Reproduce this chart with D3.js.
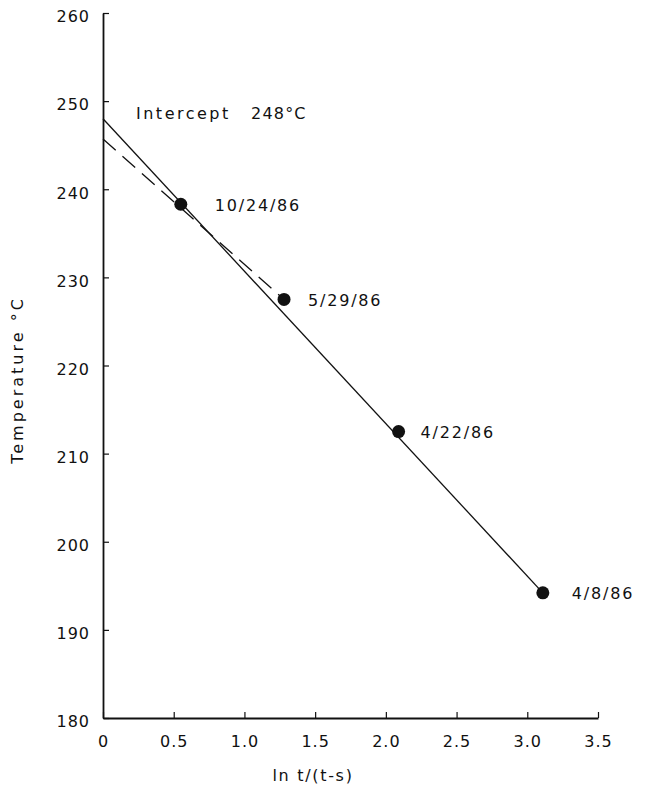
<!DOCTYPE html>
<html>
<head>
<meta charset="utf-8">
<script src="https://cdn.jsdelivr.net/npm/d3@7"></script>
<style>
  html, body { margin: 0; padding: 0; background: #fff; }
  svg text { font-family: "DejaVu Sans", "Liberation Sans", Arial, sans-serif; fill: #111; }
</style>
</head>
<body>
<svg id="chart" width="647" height="790"></svg>
<script>
// Measured points: ln t/(t-s) vs temperature (°C)
const dates = ["10/24/86", "5/29/86", "4/22/86", "4/8/86"];
const lnRatio = [0.55, 1.28, 2.09, 3.11];
const tempC = [238.3, 227.5, 212.5, 194.2];

// Fitted straight line through all points (intercept 248 °C)
const fitX = [0, 3.11];
const fitY = [248, 194.2];

// Line fitted to the two most recent points only
const fit2X = [0, 1.28];
const fit2Y = [245.7, 227.5];

const xTicks = [0, 0.5, 1.0, 1.5, 2.0, 2.5, 3.0, 3.5];
const xTickLabels = ["0", "0.5", "1.0", "1.5", "2.0", "2.5", "3.0", "3.5"];
const yTicks = [180, 190, 200, 210, 220, 230, 240, 250, 260];

// Horizontal gap between each dot and its date label
const labelGap = [34, 24, 22, 29];

const svg = d3.select("#chart");
const x = d3.scaleLinear().domain([0, 3.5]).range([103, 598]);
const y = d3.scaleLinear().domain([180, 260]).range([718, 13]);

const ink = "#111";
const font = '"DejaVu Sans", "Liberation Sans", Arial, sans-serif';

// Axes with inward-pointing ticks
const yAxis = d3.axisLeft(y).tickValues(yTicks).tickSizeInner(-6).tickSizeOuter(0).tickPadding(13);
const gy = svg.append("g").attr("transform", `translate(${x(0)},0)`).call(yAxis);
const xAxis = d3.axisBottom(x).tickValues(xTicks).tickFormat((d, i) => xTickLabels[i])
  .tickSizeInner(-6).tickSizeOuter(0).tickPadding(18);
const gx = svg.append("g").attr("transform", `translate(0,${y(180)})`).call(xAxis);

[gx, gy].forEach(g => {
  g.select(".domain").attr("stroke", ink).attr("stroke-width", 1.8);
  g.selectAll(".tick line").attr("stroke", ink).attr("stroke-width", 1.2);
  g.selectAll(".tick text").attr("fill", ink).style("font-size", "16px").style("letter-spacing", "1px")
    .style("font-family", font);
});
gx.selectAll(".tick text").attr("dy", "0.71em");
gy.selectAll(".tick text").attr("dy", "0.55em");

// Axis titles
svg.append("text")
  .attr("x", 313).attr("y", 776)
  .attr("text-anchor", "middle").attr("dominant-baseline", "middle")
  .style("font-size", "16px").style("letter-spacing", "1.7px")
  .text("ln t/(t-s)");
svg.append("text")
  .attr("transform", "translate(18,380) rotate(-90)")
  .attr("text-anchor", "middle").attr("dominant-baseline", "middle")
  .style("font-size", "16px").style("letter-spacing", "3px")
  .text("Temperature °C");

const line = d3.line().x(d => x(d[0])).y(d => y(d[1]));

// Solid fit line
svg.append("path")
  .datum(d3.zip(fitX, fitY))
  .attr("d", line).attr("fill", "none").attr("stroke", ink).attr("stroke-width", 1.3);

// Dashed fit line
svg.append("path")
  .datum(d3.zip(fit2X, fit2Y))
  .attr("d", line).attr("fill", "none").attr("stroke", ink).attr("stroke-width", 1.3)
  .attr("stroke-dasharray", "17,9");

// Data points
svg.selectAll("circle.pt")
  .data(d3.zip(lnRatio, tempC))
  .join("circle").attr("class", "pt")
  .attr("cx", d => x(d[0])).attr("cy", d => y(d[1])).attr("r", 6.5)
  .attr("fill", ink);

// Date labels
svg.selectAll("text.date")
  .data(d3.zip(lnRatio, tempC, dates, labelGap))
  .join("text").attr("class", "date")
  .attr("x", d => x(d[0]) + d[3]).attr("y", d => y(d[1]) + 2)
  .attr("dominant-baseline", "middle")
  .style("font-size", "16px").style("letter-spacing", "1.8px")
  .text(d => d[2]);

// Intercept annotation
svg.append("text")
  .attr("x", 136).attr("y", 114).attr("dominant-baseline", "middle")
  .style("font-size", "16px").style("letter-spacing", "2.5px")
  .text("Intercept");
svg.append("text")
  .attr("x", 251).attr("y", 114).attr("dominant-baseline", "middle")
  .style("font-size", "16px").style("letter-spacing", "1.2px")
  .text(`${fitY[0]}°C`);
</script>
</body>
</html>
